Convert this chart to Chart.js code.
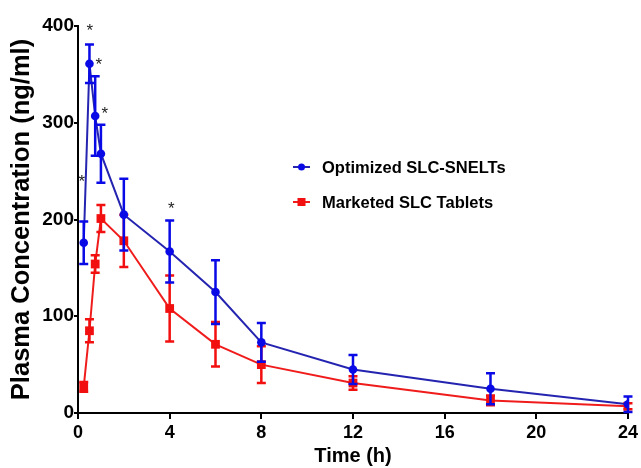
<!DOCTYPE html>
<html>
<head>
<meta charset="utf-8">
<title>Plasma concentration vs time</title>
<script src="https://cdn.jsdelivr.net/npm/chart.js@4.4.1/dist/chart.umd.min.js"></script>
<style>
  html, body { margin: 0; padding: 0; background: #fff; }
  #wrap { width: 641px; height: 468px; position: relative; }
</style>
</head>
<body>
<div id="wrap"><canvas id="pk"></canvas></div>
<script>
// sampling times (h)
const times = [0.25, 0.5, 0.75, 1, 2, 4, 6, 8, 12, 18, 24];

// mean plasma concentration (ng/ml) and SD per formulation
const snelMean = [176, 361, 307, 268, 205, 167, 125, 73, 45, 25, 9];
const snelSD   = [22, 20, 41, 30, 37, 32, 33, 20, 15, 16, 8];
const tabMean  = [27, 85, 154, 201, 178, 108, 71, 50, 31, 13, 7];
const tabSD    = [5, 12, 9, 14, 27, 34, 23, 19, 7, 5, 3];

// significance asterisks (time, concentration level)
const starTimes  = [0.17, 0.52, 0.91, 1.17, 4.07];
const starLevels = [243, 399, 364, 313, 215];

const xTicks = [0, 4, 8, 12, 16, 20, 24];
const yTicks = [0, 100, 200, 300, 400];

const BLUE_LINE = '#2424b0';
const BLUE_PT = '#0a0ae6';
const RED_LINE = '#f01c1c';
const RED_PT = '#f20f0f';
const FONT = 'Liberation Sans, Arial, Helvetica, sans-serif';

const toXY = (ys) => ys.map((y, i) => ({ x: times[i], y: y }));

// vertical SD whiskers with caps, drawn right after each dataset
const errorBars = {
  id: 'errorBars',
  afterDatasetDraw(chart, args) {
    const ds = chart.data.datasets[args.index];
    if (!ds.sd) return;
    const { ctx, scales: { x, y } } = chart;
    ctx.save();
    ctx.strokeStyle = ds.pointBackgroundColor;
    ctx.lineWidth = 2.5;
    ds.data.forEach((p, i) => {
      const px = x.getPixelForValue(p.x);
      const top = y.getPixelForValue(p.y + ds.sd[i]);
      const bot = y.getPixelForValue(Math.max(0, p.y - ds.sd[i]));
      ctx.beginPath();
      ctx.moveTo(px, top); ctx.lineTo(px, bot);
      ctx.moveTo(px - 4.5, top); ctx.lineTo(px + 4.5, top);
      ctx.moveTo(px - 4.5, bot); ctx.lineTo(px + 4.5, bot);
      ctx.stroke();
    });
    ctx.restore();
  }
};

// asterisks + in-plot legend
const extras = {
  id: 'extras',
  afterDraw(chart) {
    const { ctx, chartArea, scales: { x, y } } = chart;
    ctx.save();
    ctx.fillStyle = '#222';
    ctx.font = '17px ' + FONT;
    ctx.textAlign = 'center';
    ctx.textBaseline = 'alphabetic';
    starTimes.forEach((t, i) => {
      ctx.fillText('*', x.getPixelForValue(t), y.getPixelForValue(starLevels[i]) + 9);
    });

    const items = [
      { label: 'Optimized SLC-SNELTs', line: BLUE_LINE, pt: BLUE_PT, shape: 'circle' },
      { label: 'Marketed SLC Tablets', line: RED_LINE, pt: RED_PT, shape: 'rect' }
    ];
    const lx = chartArea.left + 215;
    let ly = chartArea.top + 141;
    ctx.font = 'bold 16.5px ' + FONT;
    ctx.textAlign = 'left';
    ctx.textBaseline = 'middle';
    items.forEach(it => {
      ctx.strokeStyle = it.line;
      ctx.lineWidth = 2;
      ctx.beginPath();
      ctx.moveTo(lx, ly); ctx.lineTo(lx + 17, ly);
      ctx.stroke();
      ctx.fillStyle = it.pt;
      if (it.shape === 'circle') {
        ctx.beginPath(); ctx.arc(lx + 8.5, ly, 3.5, 0, Math.PI * 2); ctx.fill();
      } else {
        ctx.fillRect(lx + 4.5, ly - 4, 8, 8);
      }
      ctx.fillStyle = '#000';
      ctx.fillText(it.label, lx + 29, ly + 1);
      ly += 35;
    });
    ctx.restore();
  }
};

new Chart(document.getElementById('pk'), {
  type: 'line',
  data: {
    datasets: [
      {
        label: 'Optimized SLC-SNELTs',
        data: toXY(snelMean),
        sd: snelSD,
        borderColor: BLUE_LINE,
        borderWidth: 2,
        pointStyle: 'circle',
        pointRadius: 4.3,
        pointBackgroundColor: BLUE_PT,
        pointBorderColor: BLUE_PT,
        pointBorderWidth: 0,
        tension: 0
      },
      {
        label: 'Marketed SLC Tablets',
        data: toXY(tabMean),
        sd: tabSD,
        borderColor: RED_LINE,
        borderWidth: 2,
        pointStyle: 'rect',
        pointRadius: 6.2,
        pointBackgroundColor: RED_PT,
        pointBorderColor: RED_PT,
        pointBorderWidth: 0,
        tension: 0
      }
    ]
  },
  options: {
    responsive: true,
    maintainAspectRatio: false,
    animation: false,
    layout: { padding: { top: 26, right: 10, left: 0, bottom: 0 } },
    plugins: { legend: { display: false }, tooltip: { enabled: false } },
    scales: {
      x: {
        type: 'linear',
        min: 0,
        max: 24,
        afterFit: (s) => { s.height = 55; },
        afterBuildTicks: (s) => { s.ticks = xTicks.map(v => ({ value: v })); },
        grid: { drawOnChartArea: false, color: '#000', tickLength: 6, lineWidth: 2 },
        border: { color: '#000', width: 2 },
        ticks: { color: '#000', padding: 3, font: { family: FONT, size: 18, weight: 'bold' }, maxRotation: 0 },
        title: {
          display: true,
          text: 'Time (h)',
          color: '#000',
          font: { family: FONT, size: 20, weight: 'bold' },
          padding: { top: 0, bottom: 0 }
        }
      },
      y: {
        min: 0,
        max: 400,
        afterFit: (s) => { s.width = 78; },
        afterBuildTicks: (s) => { s.ticks = yTicks.map(v => ({ value: v })); },
        grid: { drawOnChartArea: false, color: '#000', tickLength: 4, lineWidth: 2 },
        border: { color: '#000', width: 2 },
        ticks: { color: '#000', padding: 0, font: { family: FONT, size: 19, weight: 'bold' } },
        title: {
          display: true,
          text: 'Plasma Concentration (ng/ml)',
          color: '#000',
          font: { family: FONT, size: 25.5, weight: 'bold' },
          padding: { top: 7, bottom: 0 }
        }
      }
    }
  },
  plugins: [errorBars, extras]
});
</script>
</body>
</html>
